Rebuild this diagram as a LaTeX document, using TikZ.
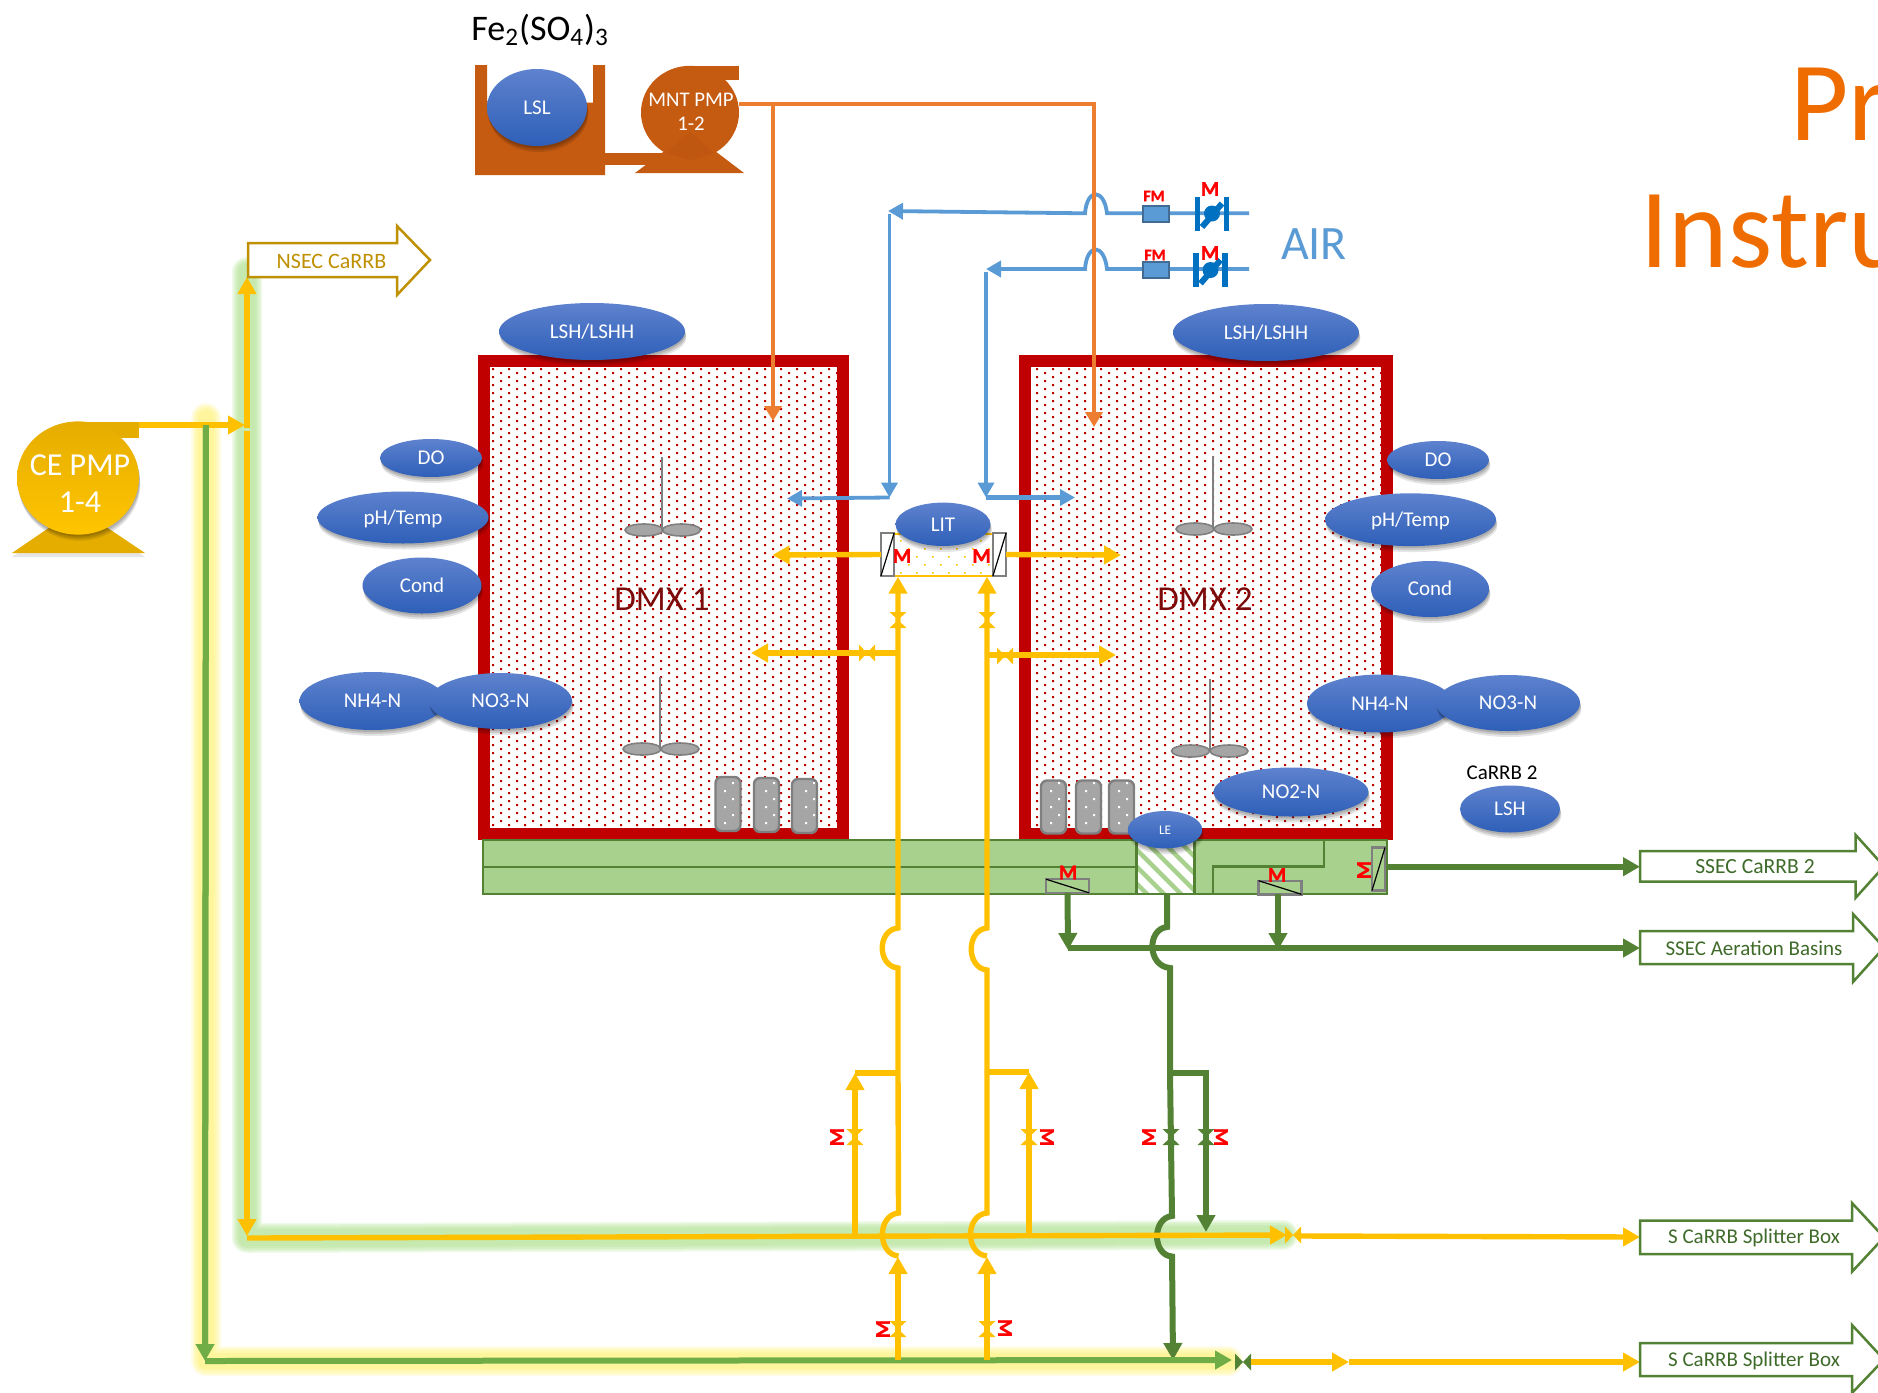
\documentclass[tikz,border=0pt]{standalone}
\usepackage{fontspec}
\setmainfont{Carlito}
\newfontfamily\mface[BoldFeatures={FakeBold=1.4}]{Carlito}
\usetikzlibrary{arrows.meta,shapes.geometric,shadows,calc}
\definecolor{tankred}{HTML}{C00000}
\definecolor{pipeyel}{HTML}{FFC000}
\definecolor{pipedk}{HTML}{548235}
\definecolor{pipelt}{HTML}{70AD47}
\definecolor{pipeblue}{HTML}{5B9BD5}
\definecolor{pipeor}{HTML}{ED7D31}
\definecolor{brownfill}{HTML}{C55A11}
\definecolor{chanfill}{HTML}{A9D18E}
\definecolor{inst1}{HTML}{5E82CE}
\definecolor{inst2}{HTML}{2E5FB8}
\definecolor{grayb}{HTML}{7F7F7F}
\definecolor{grayf}{HTML}{A5A5A5}
\definecolor{valblue}{HTML}{0070C0}
\definecolor{boxtext}{HTML}{3F6B2A}
\definecolor{nsec}{HTML}{BF9000}
\definecolor{titleor}{HTML}{EF6C00}
\definecolor{dmxtext}{HTML}{7B0A0A}
\definecolor{ga}{HTML}{F0FAEA}\definecolor{gb}{HTML}{E2F5D6}\definecolor{gc}{HTML}{D6F0C6}\definecolor{gd}{HTML}{CBEBB6}\definecolor{ge}{HTML}{C5E9AE}
\definecolor{ya}{HTML}{FFFDE8}\definecolor{yb}{HTML}{FFFBD2}\definecolor{yc}{HTML}{FFF9BE}\definecolor{yd}{HTML}{FFF7AC}\definecolor{ye}{HTML}{FFF59D}
\tikzset{
  >={Triangle[length=8.5pt,width=9pt]},
  pipeY/.style={draw=pipeyel,line width=2.7pt},
  pipeD/.style={draw=pipedk,line width=3pt},
  pipeL/.style={draw=pipelt,line width=3pt},
  pipeB/.style={draw=pipeblue,line width=1.9pt,>={Triangle[length=7.5pt,width=8pt]}},
  pipeO/.style={draw=pipeor,line width=2pt,>={Triangle[length=7.5pt,width=8.5pt]}},
  softshadow/.style={
    drop shadow={shadow xshift=.3pt,shadow yshift=-1pt,opacity=.13,fill=black},
    drop shadow={shadow xshift=.5pt,shadow yshift=-2pt,opacity=.13,fill=black},
    drop shadow={shadow xshift=.7pt,shadow yshift=-3pt,opacity=.10,fill=black}},
  instr/.style={ellipse,inner sep=0pt,top color=inst1,bottom color=inst2,text=white,
    font=\fontsize{10.5}{12}\selectfont,text height=6.8pt,text depth=0pt,softshadow},
  cyl/.style={rectangle,draw=grayb,line width=1.2pt,fill=grayf,rounded corners=3pt,inner sep=0pt,outer sep=0pt},
  gatebox/.style={rectangle,draw=grayb,line width=1.2pt,inner sep=0pt,outer sep=0pt},
  mlab/.style={text=red,inner sep=0pt,font=\fontsize{10.5}{12}\selectfont\mface\bfseries},
  fmlab/.style={text=red,inner sep=0pt,font=\fontsize{8}{9}\selectfont\mface\bfseries},
  boxlab/.style={text=boxtext,inner sep=0pt,font=\fontsize{10.5}{12}\selectfont},
  blade/.style={ellipse,draw=grayb,line width=.8pt,fill=grayf,inner sep=0pt,minimum width=19pt,minimum height=6pt},
  shaft/.style={draw=grayb,line width=.8pt},
  flowbox/.style={line width=1.25pt,fill=white},
  dmxlab/.style={text=dmxtext,inner sep=0pt,font=\fontsize{17.5}{20}\selectfont},
  whitetext/.style={text=white,inner sep=0pt,align=center},
}
\newcommand\inst[6]{\node[instr,minimum width=#4pt,minimum height=#5pt] (#1) at (#2,#3) {#6};}
\newcommand\hvalve[3]{\fill[#3] (#1-8,#2-8.5) -- (#1+8,#2+8.5) -- (#1+8,#2-8.5) -- (#1-8,#2+8.5) -- cycle;}
\newcommand\vvalve[3]{\fill[#3] (#1-8.5,#2-8) -- (#1+8.5,#2+8) -- (#1-8.5,#2+8) -- (#1+8.5,#2-8) -- cycle;}
% x0 y0 columns rows
\newcommand\dotfield[4]{\foreach \i in {0,...,#3}{\fill[tankred] \foreach \j in {0,...,#4}{
   (#1+16*\i,#2+8*\j) rectangle ++(2,2) (#1+8+16*\i,#2+4+8*\j) rectangle ++(2,2)};}}
% x left, body top, body bottom, head x, head top, head bottom, tip x, colour
\newcommand\bigarrow[8]{\draw[flowbox,draw=#8] (#1,#2) -- (#4,#2) -- (#4,#5) -- (#7,{(#2+#3)/2}) -- (#4,#6) -- (#4,#3) -- (#1,#3) -- cycle;}
\newcommand\glowpath[6]{\draw[#1,line width=15pt,line cap=round,line join=round] #6;
  \draw[#2,line width=13.5pt,line cap=round,line join=round] #6;
  \draw[#3,line width=12pt,line cap=round,line join=round] #6;
  \draw[#4,line width=10pt,line cap=round,line join=round] #6;
  \draw[#5,line width=8pt,line cap=round,line join=round] #6;}
\newcommand\airvalve[2]{\draw[valblue,line width=2.6pt] (#1-14.5,#2-17) -- (#1-14.5,#2+17) (#1+14.5,#2-17) -- (#1+14.5,#2+17);
  \draw[valblue,line width=3pt] (#1-10,#2+13.5) -- (#1+10,#2-10);
  \fill[valblue] (#1,#2) circle[radius=4pt];}
\begin{document}
\begin{tikzpicture}[x=0.5pt,y=-0.5pt]
\useasboundingbox (0,0) rectangle (1878,1392);
\clip (0,0) rectangle (1878,1392);
% ---------- glows
\glowpath{ga}{gb}{gc}{gd}{ge}{(247,272) -- (247,1238) -- (1283,1235)}
\glowpath{ya}{yb}{yc}{yd}{ye}{(206,418) -- (206,1361) -- (1228,1361)}
% ---------- named pipe points
\coordinate (ceout) at (139,425);
\coordinate (jct) at (245,425);
\coordinate (upT) at (247,277);
\coordinate (upB) at (247,428);
\coordinate (dnT) at (247,431);
\coordinate (dnB) at (247,1236);
\coordinate (hstart) at (247,1238);
\coordinate (hend) at (1287,1235);
\coordinate (gT) at (206,425);
\coordinate (gB) at (205,1361);
\coordinate (gstart) at (205,1361);
\coordinate (gend) at (1232,1360);
% ---------- title
\node[anchor=base west,text=titleor,inner sep=0pt,font=\fontsize{56.5}{60}\selectfont] (ttl1) at (1790,140) {Pr};
\node[anchor=base west,text=titleor,inner sep=0pt,font=\fontsize{56.5}{60}\selectfont] (ttl2) at (1640,267) {Instru};
\node[anchor=base west,inner sep=0pt,font=\fontsize{18}{20}\selectfont] (fe) at (471,40) {Fe\textsubscript{2}(SO\textsubscript{4})\textsubscript{3}};
% ---------- ferric tank and pump
\fill[brownfill] (475,65) -- (487,65) -- (487,102.5) -- (593,102.5) -- (593,65) -- (605,65) -- (605,175) -- (475,175) -- cycle;
\fill[brownfill] (604,153) rectangle (665,165);
\fill[brownfill] (690,132) -- (744,173) -- (635,173) -- cycle;
\fill[brownfill] (690,66) rectangle (739,80);
\node[ellipse,fill=brownfill,inner sep=0pt,minimum width=49pt,minimum height=46.7pt] (mnt) at (690,112.5) {};
\fill[brownfill!97!black] (690,132) -- (714,153) -- (690,160) -- (666,153) -- cycle;
\node[whitetext,font=\fontsize{10.4}{12.25}\selectfont] (mntl) at (691,112) {MNT PMP\\1-2};
\inst{lsl}{537}{107.5}{50}{38.5}{LSL}
% ---------- CE pump
\fill[pipeyel!90!black,drop shadow={shadow xshift=0pt,shadow yshift=-2pt,opacity=.2}] (78,508) -- (145,553) -- (12,553) -- cycle;
\fill[pipeyel!90!black] (78,422) rectangle (139,438);
\node[ellipse,inner sep=0pt,minimum width=61pt,minimum height=56.6pt,top color=pipeyel!90!black,bottom color=pipeyel!92!yellow,softshadow] (cepmp) at (78,478) {};
\node[whitetext,font=\fontsize{16}{18.5}\selectfont] (cel) at (80,484) {CE PMP\\1-4};
% ---------- tanks
\fill[white] (490,367) rectangle (838,828);
\begin{scope}
\clip (490,367) rectangle (838,828);
\dotfield{492}{368}{21}{57}
\end{scope}
\draw[tankred,line width=6pt] (483.5,361) rectangle (843,834);
\begin{scope}
\clip (1031,367) rectangle (1381,828);
\dotfield{1036}{368}{21}{57}
\end{scope}
\draw[tankred,line width=6pt] (1025,361) rectangle (1387,834);
\node[dmxlab] (dmx1) at (662,599) {DMX 1};
\node[dmxlab] (dmx2) at (1205,599) {DMX 2};
% mixers
\node[blade] (b11) at (644,530) {}; \node[blade] (b12) at (681.5,530) {};
\coordinate (s1t) at (662,457); \draw[shaft] (s1t) -- (662,530);
\node[blade] (b21) at (642,749) {}; \node[blade] (b22) at (680,749) {};
\coordinate (s2t) at (660,677); \draw[shaft] (s2t) -- (660,749);
\node[blade] (b31) at (1195,529) {}; \node[blade] (b32) at (1233,529) {};
\coordinate (s3t) at (1213,456); \draw[shaft] (s3t) -- (1213,529);
\node[blade] (b41) at (1190.5,751) {}; \node[blade] (b42) at (1229,751) {};
\coordinate (s4t) at (1210,679); \draw[shaft] (s4t) -- (1210,751);
% ---------- channel
\draw[fill=chanfill,draw=pipedk,line width=1.25pt] (483,840) rectangle (1387,894);
\coordinate (chanL) at (483,867);
\coordinate (hatchL) at (1136,867);
\draw[pipedk,line width=1.25pt] (chanL) -- (hatchL);
\draw[pipedk,line width=1.25pt] (1324,840) -- (1324,866.5) -- (1213,866.5) -- (1213,894);
\node[rectangle,fill=white,inner sep=0pt,minimum width=29pt,minimum height=27pt] (hatch) at (1165.5,867) {};
\begin{scope}
\clip (1136.5,840) rectangle (1194.5,894);
\foreach \k in {-60,-43,...,60}{\draw[chanfill,line width=2.2pt] (1136+\k,840) -- ++(60,60);}
\end{scope}
\draw[pipedk,line width=1.25pt] (1136.5,840) rectangle (1194.5,894);
% cylinders
\node[cyl,minimum width=12.5pt,minimum height=27pt] (c1) at (728,804) {};
\node[cyl,minimum width=12.5pt,minimum height=27pt] (c2) at (766.5,805) {};
\node[cyl,minimum width=12.5pt,minimum height=27pt] (c3) at (804.5,806) {};
\node[cyl,minimum width=12.5pt,minimum height=26.5pt] (c4) at (1053.5,807) {};
\node[cyl,minimum width=12.5pt,minimum height=26.5pt] (c5) at (1088.5,807) {};
\node[cyl,minimum width=12.5pt,minimum height=26.5pt] (c6) at (1121.5,807) {};
\foreach \cx in {724,765,805,1050,1085,1118}{
  \fill[white] (\cx,790) rectangle ++(2,2) (\cx,806) rectangle ++(2,2) (\cx,822) rectangle ++(2,2)
               (\cx+8,782) rectangle ++(2,2) (\cx+8,798) rectangle ++(2,2) (\cx+8,814) rectangle ++(2,2);}
% gates
\node[gatebox,fill=chanfill,minimum width=21.5pt,minimum height=6.8pt] (g1) at (1067.5,886) {};
\draw[black,line width=.6pt] (g1.north west) -- (g1.south east);
\node[gatebox,fill=chanfill,minimum width=21.5pt,minimum height=6.8pt] (g2) at (1280,887.5) {};
\draw[black,line width=.6pt] (g2.north west) -- (g2.south east);
\node[gatebox,fill=chanfill,minimum width=6.5pt,minimum height=21.5pt] (g3) at (1378.5,869) {};
\draw[black,line width=.6pt] (g3.north east) -- (g3.south west);
\node[mlab] (mg1) at (1068,872.5) {M};
\node[mlab] (mg2) at (1277,875) {M};
\node[mlab,rotate=90] (mg3) at (1364,870) {M};
% ---------- dark green pipes
\coordinate (gh1) at (1068,948);
\coordinate (gh2) at (1278,948);
\coordinate (g2out) at (1278,894);
\coordinate (chanR) at (1387,866.7);
\coordinate (ssecB) at (1640,866.7);
\coordinate (ssecA) at (1640,948);
\draw[pipeD,->] (chanR) -- (ssecB);
\draw[pipeD,->] (gh1) -- (ssecA);
\draw[pipeD,->] (g1.south) -- ($(gh1)+(0,2)$);
\draw[pipeD,->] (g2out) -- ($(gh2)+(0,2)$);
\coordinate (leB) at (1167,894);
\coordinate (grn1) at (1170,1073);
\coordinate (grn2) at (1206,1073);
\coordinate (grnT) at (1173,1360);
\coordinate (grnB) at (1206,1232);
\draw[pipeD,->] (leB) -- (1167,927) .. controls (1147,929) and (1147,966) .. (1170,968) -- (grn1) -- (1172,1216) .. controls (1152,1218) and (1152,1255) .. (1172,1256.5) -- (grnT);
\draw[pipeD,->] (grn1) -- (grn2) -- (grnB);
% ---------- yellow + green mains
\draw[pipeL] (gT) -- ($(gB)+(0,-8)$);
\draw[pipeY,->] (upB) -- (upT);
\draw[pipeY,->] (dnT) -- (dnB);
\draw[pipeY,->] (ceout) -- (jct);
\draw[pipeY,->] (hstart) -- (hend);
\draw[pipeL,->] (gT) -- (gB);
\draw[pipeL,->] (gstart) -- (gend);
% yellow risers
\coordinate (r1B) at (898,1360);
\coordinate (r1T) at (898,1257);
\coordinate (r2B) at (987,1360);
\coordinate (r2T) at (987,1257);
\draw[pipeY,->] (r1B) -- (r1T);
\draw[pipeY,->] (r2B) -- (r2T);
\coordinate (lg1) at (898,576.7);
\coordinate (lg2) at (987,576.7);
\coordinate (br1) at (898,1073);
\coordinate (br2) at (987,1072);
\draw[pipeY,->] (898.5,1256) .. controls (877,1254) and (877,1215) .. (898.5,1213) -- (br1) -- (898,968) .. controls (877,966) and (877,930) .. (898,928) -- (lg1);
\draw[pipeY,->] (987,1256) .. controls (965,1254) and (965,1215) .. (987,1213) -- (br2) -- (987,970) .. controls (966,968) and (966,930) .. (987,928) -- (lg2);
\coordinate (br1e) at (855,1073);
\coordinate (br2e) at (1029,1072);
\coordinate (main1) at (855,1236);
\coordinate (main2) at (1029,1236);
\draw[pipeY] (br1) -- (br1e);
\draw[pipeY] (br2) -- (br2e);
\draw[pipeY,->] (main1) -- (br1e);
\draw[pipeY,->] (main2) -- (br2e);
\coordinate (dm1a) at (898,653);
\coordinate (dm1b) at (751,653);
\coordinate (dm2a) at (987,655);
\coordinate (dm2b) at (1116,655);
\draw[pipeY,->] (dm1a) -- (dm1b);
\draw[pipeY,->] (dm2a) -- (dm2b);
% valves
\vvalve{898}{620}{pipeyel} \vvalve{987}{620}{pipeyel}
\hvalve{867}{653}{pipeyel} \hvalve{1005}{656}{pipeyel}
\vvalve{855}{1137}{pipeyel} \vvalve{1029}{1137}{pipeyel}
\vvalve{1171}{1137}{pipedk} \vvalve{1206}{1137}{pipedk}
\vvalve{898}{1329}{pipeyel} \vvalve{987}{1329}{pipeyel}
\hvalve{1293}{1235}{pipeyel}
\hvalve{1243}{1362}{pipedk}
\node[mlab,rotate=90] (m1) at (837,1137) {M};
\node[mlab,rotate=-90] (m2) at (1047,1137) {M};
\node[mlab,rotate=90] (m3) at (1149,1137) {M};
\node[mlab,rotate=-90] (m4) at (1221,1137) {M};
\node[mlab,rotate=90] (m5) at (883,1329) {M};
\node[mlab,rotate=-90] (m6) at (1005,1328) {M};
% outlet yellow
\coordinate (y1a) at (1301,1236);
\coordinate (y1b) at (1640,1237);
\coordinate (y2a) at (1251,1362);
\coordinate (y2m) at (1349,1362);
\coordinate (y2b) at (1640,1362);
\draw[pipeY,->] (y1a) -- (y1b);
\draw[pipeY,->] (y2a) -- (y2m);
\draw[pipeY,->] (y2m) -- (y2b);
% ---------- LIT box
\draw[pipeyel,line width=1.2pt,fill=white] (881,534) rectangle (1006,576);
\begin{scope}
\clip (881,534) rectangle (1006,576);
\foreach \i in {0,...,7}{\fill[pipeyel] \foreach \j in {0,...,2}{
   (884+16*\i,540+16*\j) rectangle ++(1.7,1.7) (892+16*\i,548+16*\j) rectangle ++(1.7,1.7)};}
\end{scope}
\node[gatebox,fill=white,minimum width=6.6pt,minimum height=21.5pt] (g4) at (887.5,554.5) {};
\draw[black,line width=.6pt] (g4.north east) -- (g4.south west);
\node[gatebox,fill=white,minimum width=6.6pt,minimum height=21.5pt] (g5) at (999.5,554.5) {};
\draw[black,line width=.6pt] (g5.north east) -- (g5.south west);
\node[mlab] (m7) at (902,556) {M};
\node[mlab] (m8) at (981.5,556) {M};
\coordinate (o1) at (772.5,555);
\coordinate (o2) at (1121,555);
\draw[pipeY,->] (g4.west) -- (o1);
\draw[pipeY,->] (g5.east) -- (o2);
% ---------- air
\coordinate (a1e) at (1249,213.3);
\coordinate (a2e) at (1249,269);
\coordinate (a1t) at (888,211);
\coordinate (a2t) at (986,269);
\coordinate (a1v) at (889.5,214);
\coordinate (a2v) at (986,272);
\coordinate (a1b) at (889.5,497.5);
\coordinate (a2b) at (986,497.5);
\coordinate (a1d) at (787,498.5);
\coordinate (a2d) at (1075,497.5);
\draw[pipeB,->] (a1e) -- (1107,213.3) .. controls (1104,188) and (1087,188) .. (1085,213.3) -- (a1t);
\draw[pipeB,->] (a2e) -- (1107,269) .. controls (1104,243) and (1087,243) .. (1085,269) -- (a2t);
\draw[pipeB,->] (a1v) -- (a1b);
\draw[pipeB,->] (a2v) -- (a2b);
\draw[pipeB,->] (a1b) -- (a1d);
\draw[pipeB,->,line width=2.5pt] (a2b) -- (a2d);
\node[rectangle,draw=pipeblue!70!black,fill=pipeblue,line width=1.2pt,inner sep=0pt,minimum width=13pt,minimum height=8pt] (fm1) at (1156,214) {};
\node[rectangle,draw=pipeblue!70!black,fill=pipeblue,line width=1.2pt,inner sep=0pt,minimum width=13pt,minimum height=8pt] (fm2) at (1156,270) {};
\node[fmlab] (fml1) at (1154,196) {FM};
\node[fmlab] (fml2) at (1155,255) {FM};
\airvalve{1212}{213.5}
\airvalve{1210.5}{270}
\node[mlab] (am1) at (1210,189) {M};
\node[mlab] (am2) at (1210,253) {M};
\node[text=pipeblue,inner sep=0pt,font=\fontsize{24}{26}\selectfont] (air) at (1314,244) {AIR};
% ---------- orange
\coordinate (morig) at (739,103.7);
\coordinate (orc) at (1094,103.7);
\coordinate (orend) at (1094,427);
\coordinate (orb) at (773,103.7);
\coordinate (orb2) at (773,421);
\draw[pipeO,->] (morig) -- (orc) -- (orend);
\draw[pipeO,->] (orb) -- (orb2);
% ---------- instruments
\inst{lsh1}{592}{331.5}{93}{28.5}{LSH/LSHH}
\inst{do1}{431}{458}{51}{19}{DO}
\inst{ph1}{403}{517.5}{85.5}{26}{pH/Temp}
\inst{cond1}{422}{585.5}{59.5}{28}{Cond}
\inst{nh1}{372.5}{701}{73}{29}{NH4-N}
\inst{no1}{500.5}{701}{71.5}{28}{NO3-N}
\inst{lit}{943}{524.3}{47.5}{21.7}{LIT}
\inst{lsh2}{1266}{332.5}{93}{28.5}{LSH/LSHH}
\inst{do2}{1438}{460}{51}{19}{DO}
\inst{ph2}{1410.5}{519.7}{85.5}{26.4}{pH/Temp}
\inst{cond2}{1430}{589}{59}{28}{Cond}
\inst{nh2}{1380}{703.5}{73}{29}{NH4-N}
\inst{no2}{1508}{703}{72}{28}{NO3-N}
\inst{no2n}{1291}{792}{77.5}{24.5}{NO2-N}
\node[instr,minimum width=37.3pt,minimum height=18.7pt,font=\fontsize{6.6}{8}\selectfont,text height=4.3pt] (le) at (1165,829.7) {LE};
\inst{lshc}{1510}{809}{50}{23.5}{LSH}
\node[inner sep=0pt,font=\fontsize{10.5}{12}\selectfont] (crb) at (1502,772.5) {CaRRB 2};
% ---------- destination arrows
\bigarrow{248}{243}{277}{397}{226}{295}{430}{nsec}
\node[inner sep=0pt,text=nsec,font=\fontsize{11}{12}\selectfont] (nsecl) at (331.5,261) {NSEC CaRRB};
\bigarrow{1640}{851}{881.7}{1855.7}{835}{897.7}{1884}{pipedk}
\node[boxlab,font=\fontsize{10.8}{12}\selectfont] (l1) at (1755,866.7) {SSEC CaRRB 2};
\bigarrow{1640}{931}{964}{1853}{914}{982}{1884}{pipedk}
\node[boxlab] (l2) at (1754,948) {SSEC Aeration Basins};
\bigarrow{1640}{1220.7}{1254}{1852}{1203}{1271.7}{1884}{pipedk}
\node[boxlab] (l3) at (1754,1237.7) {S CaRRB Splitter Box};
\bigarrow{1640}{1343}{1376}{1852}{1325}{1393}{1884}{pipedk}
\node[boxlab] (l4) at (1754,1360.7) {S CaRRB Splitter Box};
\end{tikzpicture}
\end{document}
